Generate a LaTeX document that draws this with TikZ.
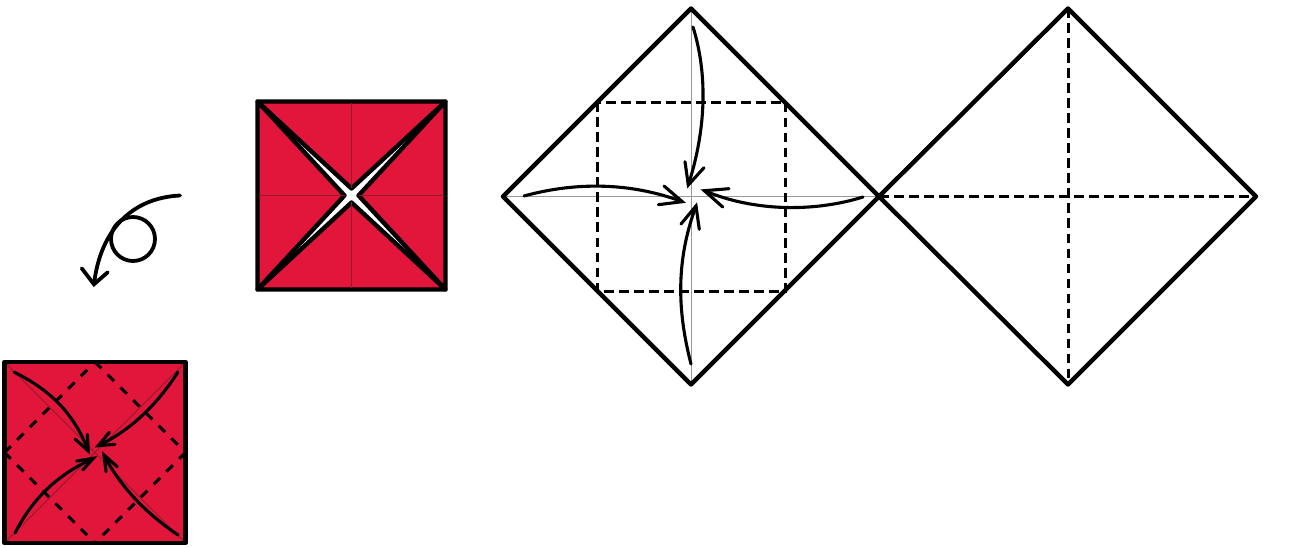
\documentclass[tikz,border=0pt]{standalone}
\definecolor{paper}{HTML}{E2163A}
\definecolor{crease}{HTML}{96182F}
\tikzset{
  edge/.style={line width=4.4pt,line join=round,line cap=round},
  fold/.style={line width=3pt,dash pattern=on 9.5pt off 5.5pt},
  diagfold/.style={line width=3pt,dash pattern=on 9pt off 9pt},
  foldarrow/.style={line width=3.1pt,line cap=round,line join=miter},
  turnarrow/.style={line width=3.8pt,line cap=round,line join=miter},
  thin crease/.style={line width=0.9pt,draw=crease},
  grey crease/.style={line width=0.9pt,draw=black!40}
}
\begin{document}
\begin{tikzpicture}[x=1pt,y=-1pt]
\useasboundingbox (0,0) rectangle (1298,548);
% --- bottom-left square
\coordinate (aTL) at (4.5,362); \coordinate (aTR) at (185.5,362);
\coordinate (aBR) at (185.5,543); \coordinate (aBL) at (4.5,543);
\coordinate (aT) at (95,362); \coordinate (aR) at (185.5,452.5);
\coordinate (aB) at (95,543); \coordinate (aL) at (4.5,452.5);
\fill[paper] (aTL) rectangle (aBR);
\draw[thin crease] (aTL) -- (aBR) (aTR) -- (aBL);
\draw[diagfold] (aT) -- (aR) (aR) -- (aB) (aL) -- (aB) (aL) -- (aT);
\draw[edge] (aTL) rectangle (aBR);
\draw[foldarrow] (14,372) .. controls (46,388) and (73,410) .. (88.3,451);
\draw[foldarrow] (75,439) -- (88.3,451) -- (87.3,434.3);
\draw[foldarrow] (178,372) .. controls (160,400) and (135,428) .. (98.3,445.7);
\draw[foldarrow] (109.3,432.3) -- (98.3,445.7) -- (115,444.3);
\draw[foldarrow] (15,533) .. controls (32,500) and (55,476) .. (93.3,458.3);
\draw[foldarrow] (76.7,461) -- (93.3,458.3) -- (82.7,470);
\draw[foldarrow] (178,535) .. controls (147,514) and (121,488) .. (104,455);
\draw[foldarrow] (106,471.7) -- (104,455) -- (117.3,466.7);
% --- turn-over symbol
\draw[turnarrow] (133,239) circle (22);
\draw[turnarrow] (180,195.5) .. controls (130,198) and (100,232) .. (94,284.3);
\draw[turnarrow] (81.7,268.3) -- (94,284.3) -- (107.7,272.3);
% --- red square with open centre
\coordinate (bTL) at (257.5,101.5); \coordinate (bTR) at (445.5,101.5);
\coordinate (bBR) at (445.5,289.5); \coordinate (bBL) at (257.5,289.5);
\coordinate (bN) at (351.5,188.5); \coordinate (bE) at (358.5,195.5);
\coordinate (bS) at (351.5,202.5); \coordinate (bW) at (344.5,195.5);
\fill[white] (bTL) rectangle (bBR);
\filldraw[fill=paper,edge] (bTL) -- (bTR) -- (bN) -- cycle;
\filldraw[fill=paper,edge] (bTR) -- (bBR) -- (bE) -- cycle;
\filldraw[fill=paper,edge] (bBR) -- (bBL) -- (bS) -- cycle;
\filldraw[fill=paper,edge] (bBL) -- (bTL) -- (bW) -- cycle;
\draw[thin crease] (351.5,103) -- (bN) (bE) -- (444,195.5) (bS) -- (351.5,288) (259,195.5) -- (bW);
% --- middle diamond
\coordinate (cT) at (691,8.5); \coordinate (cR) at (879,196.5);
\coordinate (cB) at (691,384.5); \coordinate (cL) at (503,196.5);
\draw[grey crease] (cT) -- (cB) (cL) -- (cR);
\draw[fold] (597.5,102.5) rectangle (785.5,291);
\draw[edge] (cT) -- (cR) -- (cB) -- (cL) -- cycle;
\draw[foldarrow] (693,27) .. controls (708,75) and (706,130) .. (688.3,185);
\draw[foldarrow] (685,161.7) -- (688.3,185) -- (704,167.7);
\draw[foldarrow] (524,196) .. controls (575,182) and (630,182) .. (682.3,201.7);
\draw[foldarrow] (664,186) -- (682.3,201.7) -- (658.3,204.7);
\draw[foldarrow] (863,197) .. controls (815,212) and (755,212) .. (704.3,190.7);
\draw[foldarrow] (729,188.7) -- (704.3,190.7) -- (722.7,207);
\draw[foldarrow] (691,364) .. controls (677,310) and (676,260) .. (696,206);
\draw[foldarrow] (681,224) -- (696,206) -- (699.3,229.3);
% --- right diamond
\coordinate (dT) at (1068,8.5); \coordinate (dR) at (1256,196.5);
\coordinate (dB) at (1068,384.5);
\draw[fold] (dT) -- (dB) (cR) -- (dR);
\draw[edge] (dT) -- (dR) -- (dB) -- (cR) -- cycle;
\end{tikzpicture}
\end{document}
